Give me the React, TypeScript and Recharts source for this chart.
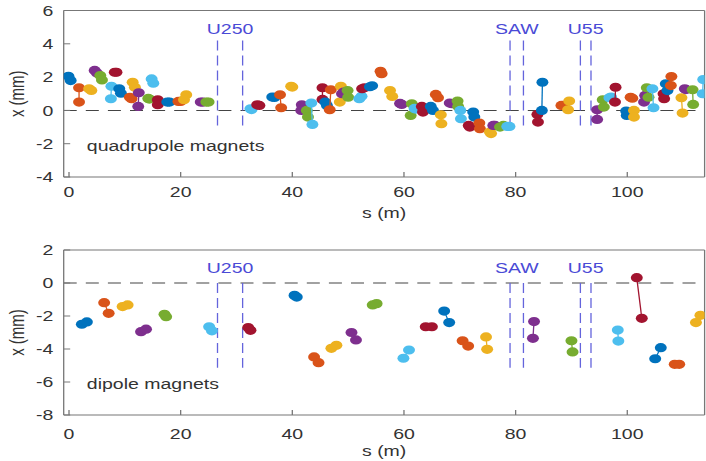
import React from "react";
import { ScatterChart, Scatter, XAxis, YAxis, ReferenceLine, ReferenceDot } from "recharts";

// MATLAB default colour order, magnets cycle through it
const palette = ["#0072BD", "#D95319", "#EDB120", "#7E2F8E", "#77AC30", "#4DBEEE", "#A2142F"];

const xTicks = [0, 20, 40, 60, 80, 100];
const quadTicks = [-4, -2, 0, 2, 4, 6];
const dipTicks = [-8, -6, -4, -2, 0, 2];

// quadrupoles: position s (m) of the two readings and the offsets x (mm)
const quadS = [
  [-0.1, 0.3], [1.8, 1.8], [3.6, 4.0], [4.6, 5.0], [5.6, 5.9], [7.6, 7.5], [8.2, 8.5],
  [9.0, 9.3], [10.9, 11.2], [11.4, 11.8], [12.5, 12.4], [14.2, 14.4], [14.8, 15.1], [15.9, 15.9],
  [17.6, 18.0], [19.6, 20.0], [21.0, 20.6], [23.6, 24.0], [24.6, 25.0], [32.5, 32.7], [33.7, 34.1],
  [36.4, 36.8], [37.8, 38.0], [39.8, 40.0], [41.7, 41.6], [42.6, 42.8], [43.4, 43.6], [45.4, 45.4],
  [45.9, 46.2], [46.9, 46.7], [48.7, 48.5], [48.9, 49.2], [49.9, 50.0], [52.0, 52.4], [52.5, 52.9],
  [53.9, 54.3], [55.8, 56.0], [57.5, 57.9], [59.3, 59.6], [61.4, 61.2], [61.9, 62.1], [63.2, 63.4],
  [64.8, 65.2], [65.7, 66.1], [66.6, 66.7], [68.2, 68.6], [69.6, 69.7], [70.1, 70.2], [71.6, 71.8],
  [72.4, 72.6], [73.5, 73.6], [75.4, 75.6], [76.0, 76.3], [77.2, 77.8], [78.5, 78.9], [83.9, 84.0],
  [84.8, 84.7], [88.2, 88.6], [89.6, 89.4], [94.6, 94.6], [95.6, 95.8], [96.8, 97.1], [97.9, 97.8],
  [99.8, 99.9], [100.6, 100.9], [101.2, 101.2], [103.0, 103.2], [103.5, 103.8], [104.5, 104.7], [106.5, 106.6],
  [106.9, 107.2], [107.9, 107.8], [109.7, 109.9], [110.3, 110.5], [111.7, 111.8], [113.6, 113.5],
];
const quadX = [
  [2.05, 1.79], [1.36, 0.5], [1.3, 1.2], [2.4, 2.25], [2.09, 1.83], [1.45, 0.7], [2.29, 2.29],
  [1.3, 1.03], [0.79, 0.7], [1.69, 1.39], [1.06, 0.24], [0.72, 0.68], [1.89, 1.63], [0.64, 0.34],
  [0.5, 0.5], [0.54, 0.54], [0.94, 0.64], [0.5, 0.5], [0.5, 0.5], [0.1, 0.05], [0.34, 0.3],
  [0.8, 0.78], [0.94, 0.16], [1.45, 1.4], [0.34, 0.0], [0.0, -0.4], [0.44, -0.84], [1.36, 0.66],
  [0.5, 0.3], [1.24, 0.04], [1.45, 0.5], [1.0, 1.1], [1.19, 0.79], [0.7, 0.85], [1.3, 1.36],
  [1.42, 1.48], [2.35, 2.2], [1.19, 0.84], [0.42, 0.36], [0.4, -0.3], [0.12, 0.08], [0.24, -0.1],
  [0.24, 0.0], [0.96, 0.76], [-0.26, -0.8], [0.44, 0.4], [0.56, 0.24], [0.0, -0.5], [-0.9, -1.0],
  [-0.1, -0.4], [-0.76, -1.1], [-1.3, -1.39], [-0.9, -0.9], [-1.0, -0.9], [-0.96, -0.96], [-0.24, -0.7],
  [1.69, 0.0], [0.3, 0.3], [0.56, 0.04], [0.04, -0.54], [0.64, 0.2], [0.76, 0.8], [1.39, 0.5],
  [-0.04, -0.3], [0.79, 0.73], [0.0, -0.4], [0.5, 0.9], [1.36, 0.79], [1.3, 0.16], [1.0, 0.7],
  [1.6, 1.19], [2.03, 1.49], [0.76, -0.16], [1.3, 1.25], [1.24, 0.36], [1.85, 1.0],
];

// dipoles
const dipS = [
  [2.3, 3.2], [6.3, 7.1], [9.6, 10.5], [12.9, 13.8], [17.1, 17.4], [25.1, 25.6], [32.1, 32.5],
  [40.4, 40.8], [43.9, 44.7], [47.0, 47.9], [50.6, 51.4], [54.4, 55.1], [59.9, 60.9], [63.9, 65.0],
  [67.2, 68.1], [70.5, 71.5], [74.7, 74.9], [83.3, 83.1], [90.0, 90.2], [98.3, 98.4], [101.7, 102.6],
  [106.0, 105.0], [108.5, 109.3], [112.3, 113.1],
];
const dipX = [
  [-2.5, -2.36], [-1.19, -1.84], [-1.43, -1.33], [-2.95, -2.8], [-1.9, -2.04], [-2.65, -2.9], [-2.7, -2.87],
  [-0.75, -0.85], [-4.48, -4.83], [-3.96, -3.78], [-3.0, -3.45], [-1.33, -1.25], [-4.56, -4.06], [-2.65, -2.65],
  [-1.7, -2.4], [-3.5, -3.82], [-3.27, -4.02], [-2.34, -3.35], [-3.5, -4.18], [-2.85, -3.52], [0.32, -2.14],
  [-3.92, -4.59], [-4.93, -4.93], [-2.4, -1.96],
];

const devices = ["U250", "SAW", "U55"];
const devStart = [26.6, 79.0, 91.6];
const devEnd = [31.1, 81.4, 93.5];

// the original figure is stretched horizontally, so draw narrow and widen it
const K = 1.3;
const W = 543;
const X_DOMAIN: [number, number] = [-0.95, 113.85];
const AXIS = "#777";
const TXT = "#333";
const DEV_LINE = "#6464dc";
const DEV_TXT = "#4a4ad6";

type PanelProps = {
  sArr: number[][];
  xArr: number[][];
  yDomain: [number, number];
  yTicks: number[];
  height: number;
  top: number;
  bottom: number;
  axisH: number;
  tickGap: number;
  labelOff: number;
  devTop: number;
  devBottom: number;
  devLabelY: number;
  note: string;
  noteY: number;
};

function Panel(p: PanelProps) {
  const series = p.sArr.map((pair, i) => pair.map((s, j) => ({ s, x: p.xArr[i][j] })));
  return (
    <ScatterChart width={W} height={p.height} margin={{ top: p.top, right: 0, bottom: p.bottom, left: 0 }}>
      <XAxis
        type="number"
        dataKey="s"
        domain={X_DOMAIN}
        ticks={xTicks}
        allowDataOverflow
        height={p.axisH}
        tickSize={-5}
        tickMargin={p.tickGap}
        stroke={AXIS}
        tick={{ fill: TXT, fontSize: 15 }}
        label={{ value: "s (m)", position: "insideBottom", offset: p.labelOff, fill: TXT, fontSize: 15 }}
      />
      <XAxis xAxisId="top" orientation="top" type="number" domain={X_DOMAIN} ticks={xTicks} allowDataOverflow height={1} tickSize={-5} tick={false} stroke={AXIS} />
      <YAxis
        type="number"
        dataKey="x"
        domain={p.yDomain}
        ticks={p.yTicks}
        allowDataOverflow
        width={49}
        tickSize={-5}
        tickMargin={13}
        stroke={AXIS}
        tick={{ fill: TXT, fontSize: 15 }}
        label={{ value: "x (mm)", angle: -90, position: "center", dx: -11.5, fill: TXT, fontSize: 15 }}
      />
      <YAxis yAxisId="right" orientation="right" type="number" domain={p.yDomain} ticks={p.yTicks} allowDataOverflow width={1} tickSize={-5} tick={false} stroke={AXIS} />

      <ReferenceLine y={0} stroke="#444" strokeDasharray="10 7" />
      {devices.map((d, i) => (
        <React.Fragment key={d}>
          <ReferenceLine segment={[{ x: devStart[i], y: p.devTop }, { x: devStart[i], y: p.devBottom }]} stroke={DEV_LINE} strokeDasharray="10 5" />
          <ReferenceLine segment={[{ x: devEnd[i], y: p.devTop }, { x: devEnd[i], y: p.devBottom }]} stroke={DEV_LINE} strokeDasharray="10 5" />
          <ReferenceDot
            x={(devStart[i] + devEnd[i]) / 2}
            y={p.devLabelY}
            r={0}
            fill="none"
            stroke="none"
            label={{ value: d, position: "center", fill: DEV_TXT, fontSize: 15 }}
          />
        </React.Fragment>
      ))}
      <ReferenceDot x={3.2} y={p.noteY} r={0} fill="none" stroke="none" label={{ value: p.note, position: "right", offset: 0, fill: TXT, fontSize: 15 }} />

      {series.map((pts, i) => {
        const c = palette[i % palette.length];
        return (
          <Scatter
            key={i}
            data={pts}
            fill={c}
            line={{ stroke: c, strokeWidth: 1 }}
            isAnimationActive={false}
            shape={(sp: any) => <circle cx={sp.cx} cy={sp.cy} r={4.6} fill={c} />}
          />
        );
      })}
    </ScatterChart>
  );
}

export default function App() {
  return (
    <div style={{ position: "absolute", left: 0, top: 0, width: 706, height: 461, background: "#fff", overflow: "hidden" }}>
      <div style={{ width: W, transform: `scaleX(${K})`, transformOrigin: "0 0", fontFamily: "'Liberation Sans', Arial, sans-serif" }}>
        <Panel
          sArr={quadS}
          xArr={quadX}
          yDomain={[-4, 6]}
          yTicks={quadTicks}
          height={230}
          top={9.5}
          bottom={8}
          axisH={45}
          tickGap={14.7}
          labelOff={3.7}
          devTop={4.2}
          devBottom={-1.05}
          devLabelY={4.9}
          note="quadrupole magnets"
          noteY={-2.1}
        />
        <Panel
          sArr={dipS}
          xArr={dipX}
          yDomain={[-8, 2]}
          yTicks={dipTicks}
          height={231}
          top={19}
          bottom={2}
          axisH={44}
          tickGap={18.7}
          labelOff={2.7}
          devTop={0}
          devBottom={-5.13}
          devLabelY={0.9}
          note="dipole magnets"
          noteY={-6.1}
        />
      </div>
    </div>
  );
}
